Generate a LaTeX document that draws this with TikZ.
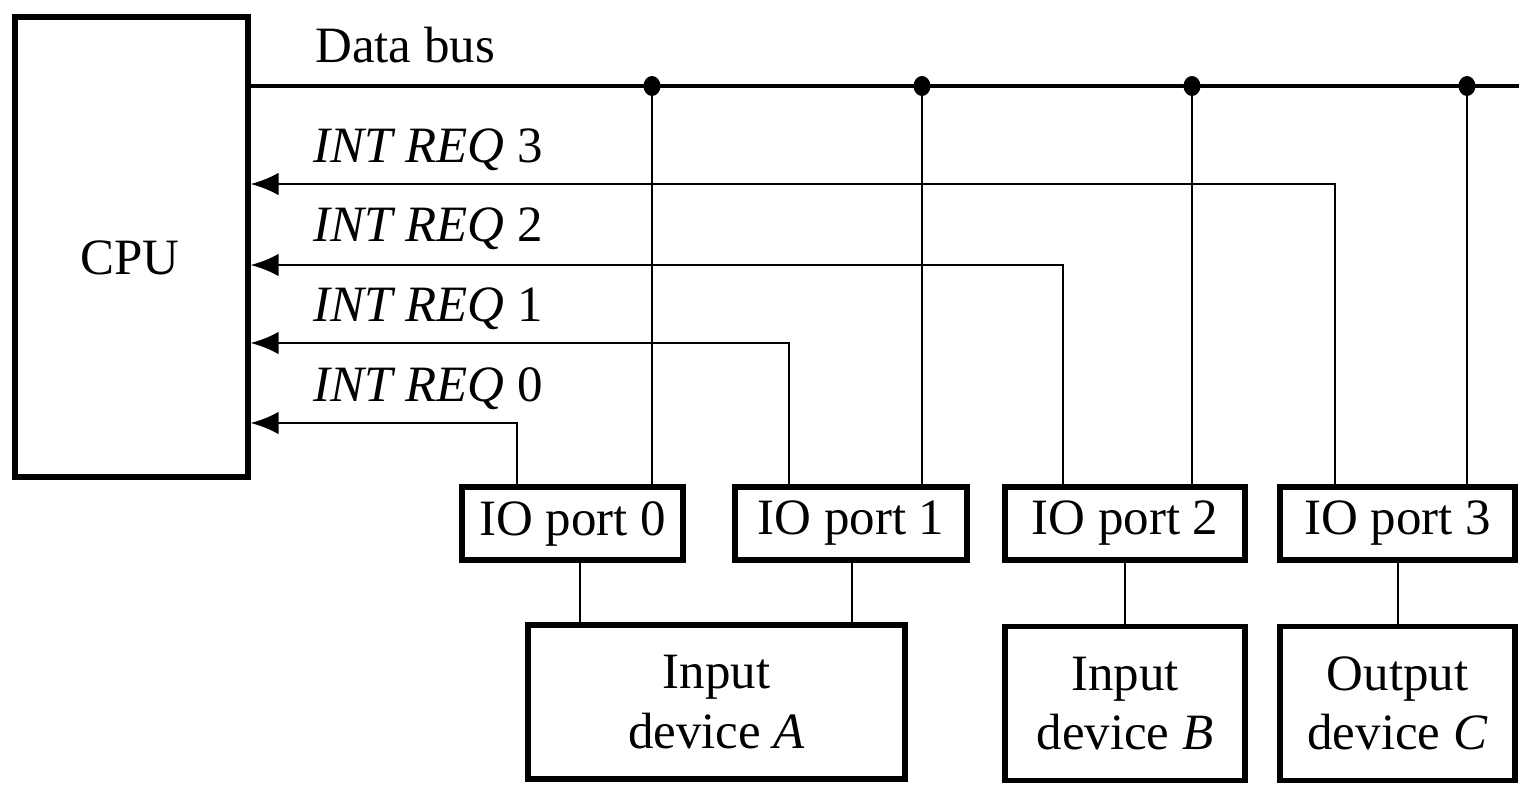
\documentclass[tikz,border=0pt]{standalone}
\usepackage{fontspec}
\setmainfont{Liberation Serif}
\usetikzlibrary{arrows.meta,shapes.geometric}
\begin{document}
\begin{tikzpicture}[x=0.02cm,y=-0.02cm,
  font=\fontsize{29}{34}\selectfont,
  unit/.style={draw,line width=3pt,inner sep=0pt,align=center},
  portbox/.style={unit,minimum height=1.46cm},
  devbox/.style={unit,minimum height=3.08cm},
  wire/.style={line width=1.6pt},
  buswire/.style={line width=2pt},
  req/.style={wire,-{Latex[length=16pt,width=13pt]}},
  tap/.style={fill,ellipse,inner sep=0pt,minimum width=0.34cm,minimum height=0.40cm},
  lbl/.style={anchor=west,inner sep=0pt}]
\useasboundingbox (0,0) rectangle (1519,785);

% processor
\node[unit,minimum width=4.66cm,minimum height=9.2cm] (cpu) at (131.5,247) {};
\node (cpulbl) at (130,258) {CPU};

% I/O ports
\node[portbox,minimum width=4.42cm] (p0) at (572.5,523.5) {IO port 0};
\node[portbox,minimum width=4.64cm] (p1) at (851,523.5) {IO port 1};
\node[portbox,minimum width=4.80cm] (p2) at (1125,523.5) {IO port 2};
\node[portbox,minimum width=4.70cm] (p3) at (1397.5,523.5) {IO port 3};

% devices
\node[devbox,minimum width=7.54cm] (devA) at (716.5,702) {Input\\device \textit{A}};
\node[devbox,minimum width=4.80cm] (devB) at (1125,703.5) {Input\\device \textit{B}};
\node[devbox,minimum width=4.70cm] (devC) at (1397.5,703.5) {Output\\device \textit{C}};

% data bus
\coordinate (busL) at (cpu.east |- 0,86);
\coordinate (busR) at (1519,86);
\draw[buswire] (busL) -- (busR);
\node[lbl] (buslbl) at (315,45) {Data bus};

% bus taps
\coordinate (t0) at (652,86);
\coordinate (t1) at (922,86);
\coordinate (t2) at (1192,86);
\coordinate (t3) at (1467,86);
\foreach \t/\p in {t0/p0,t1/p1,t2/p2,t3/p3}{
  \draw[wire] (\t) -- (\t |- \p.north);
  \node[tap] at (\t) {};
}

% interrupt request lines
\coordinate (r0) at (517,423);
\coordinate (r1) at (789,343);
\coordinate (r2) at (1063,265);
\coordinate (r3) at (1335,184);
\foreach \r/\p in {r0/p0,r1/p1,r2/p2,r3/p3}{
  \draw[req] (\r |- \p.north) -- (\r) -- (cpu.east |- \r);
}
\node[lbl] (l3) at (313,150) {\textit{INT REQ} 3};
\node[lbl] (l2) at (313,229) {\textit{INT REQ} 2};
\node[lbl] (l1) at (313,309) {\textit{INT REQ} 1};
\node[lbl] (l0) at (313,389) {\textit{INT REQ} 0};

% port-to-device links
\coordinate (d0) at (580,0);
\coordinate (d1) at (852,0);
\coordinate (d2) at (1125,0);
\coordinate (d3) at (1398,0);
\draw[wire] (p0.south -| d0) -- (devA.north -| d0);
\draw[wire] (p1.south -| d1) -- (devA.north -| d1);
\draw[wire] (p2.south -| d2) -- (devB.north -| d2);
\draw[wire] (p3.south -| d3) -- (devC.north -| d3);
\end{tikzpicture}
\end{document}
